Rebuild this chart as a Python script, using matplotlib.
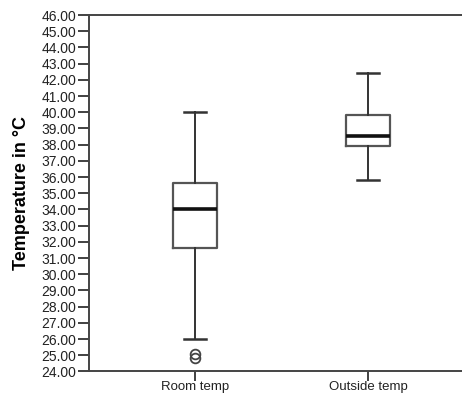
import matplotlib
matplotlib.use("Agg")
import matplotlib.pyplot as plt

# box statistics
groups = ["Room temp", "Outside temp"]
medians = [34.0, 38.55]
q1 = [31.65, 37.9]
q3 = [35.65, 39.8]
whisker_low = [26.0, 35.8]
whisker_high = [40.0, 42.45]
outliers = [[25.1, 24.85], []]

y_ticks = [24 + i for i in range(23)]

plt.rcParams['font.family'] = ['Liberation Sans', 'DejaVu Sans']

fig = plt.figure(figsize=(4.62, 3.96), dpi=100)
ax = fig.add_axes([0.1926, 0.0619, 0.8074, 0.9001])

stats = []
for i, name in enumerate(groups):
    stats.append({
        "label": name,
        "med": medians[i],
        "q1": q1[i],
        "q3": q3[i],
        "whislo": whisker_low[i],
        "whishi": whisker_high[i],
        "fliers": outliers[i],
    })

ax.bxp(stats, positions=[1, 2], widths=0.254, capwidths=0.127,
       boxprops=dict(color="#555555", linewidth=1.6),
       medianprops=dict(color="#111111", linewidth=2.6),
       whiskerprops=dict(color="#333333", linewidth=1.4),
       capprops=dict(color="#333333", linewidth=1.8),
       flierprops=dict(marker="o", markersize=7, markerfacecolor="none",
                       markeredgecolor="#444444", markeredgewidth=1.3))

ax.set_xlim(0.387, 2.543)
ax.set_ylim(24, 46)
ax.set_yticks(y_ticks)
ax.set_yticklabels([f"{v:.2f}" for v in y_ticks])
ax.set_xticks([1, 2])
ax.set_xticklabels(groups)

ax.tick_params(axis="both", direction="out", length=8, width=1.3,
               color="#333333", labelsize=10, labelcolor="#222222", pad=1)
ax.tick_params(axis="x", length=7, labelsize=9.5, pad=0)

for side in ["left", "bottom", "top"]:
    ax.spines[side].set_color("#444444")
    ax.spines[side].set_linewidth(1.4)
ax.spines["right"].set_visible(False)

ax.set_ylabel("Temperature in °C", fontsize=13, fontweight="bold", labelpad=8)

fig.savefig("out.png", dpi=100, facecolor="white")
